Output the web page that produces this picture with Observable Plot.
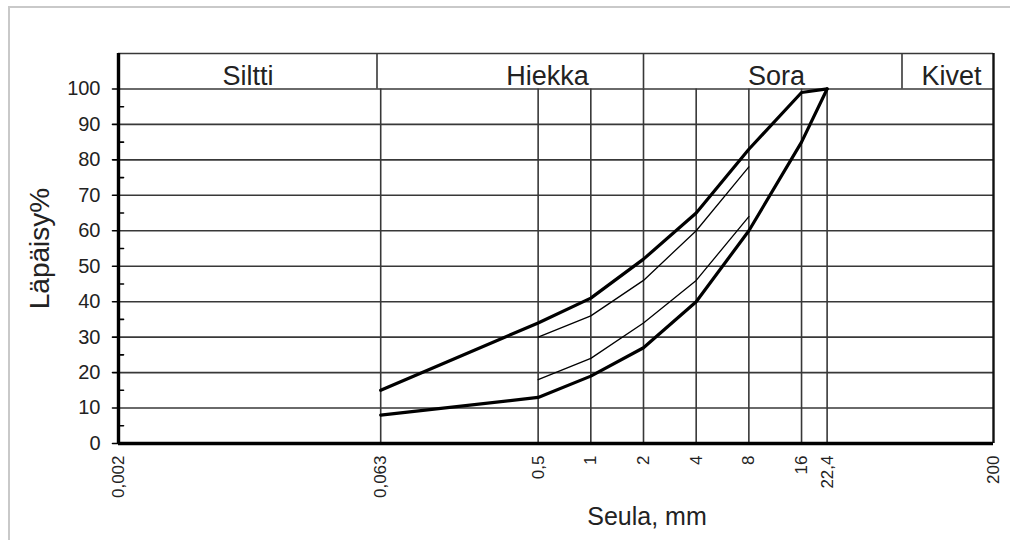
<!DOCTYPE html>
<html>
<head>
<meta charset="utf-8">
<script src="https://cdn.jsdelivr.net/npm/d3@7"></script>
<script src="https://cdn.jsdelivr.net/npm/@observablehq/plot@0.6"></script>
<style>
  html, body { margin: 0; padding: 0; background: #fff; }
  #wrap { position: relative; width: 1010px; height: 540px; overflow: hidden; }
  #border { position: absolute; left: 8px; top: 6px; width: 1010px; height: 540px; border: 2px solid #c9c9c9; box-sizing: border-box; }
  #chart { position: absolute; left: 0; top: 0; }
</style>
</head>
<body>
<div id="wrap"><div id="border"></div><div id="chart"></div></div>
<script>
// ---- data ----
const sieveLines = [0.063, 0.5, 1, 2, 4, 8, 16, 22.4];
const xTickValues = [0.002, 0.063, 0.5, 1, 2, 4, 8, 16, 22.4, 200];
const yTickValues = [0, 10, 20, 30, 40, 50, 60, 70, 80, 90, 100];
const yMinorTicks = [5, 15, 25, 35, 45, 55, 65, 75, 85, 95];
const bandEdges = [0.06, 2, 60];
const bandNames = ["Siltti", "Hiekka", "Sora", "Kivet"];
const bandLabelX = [0.011, 0.565, 11.5, 115];

const upperX = [0.063, 0.5, 1, 2, 4, 8, 16, 22.4];
const upperY = [15, 34, 41, 52, 65, 83, 99, 100];
const lowerX = [0.063, 0.5, 1, 2, 4, 8, 16, 22.4];
const lowerY = [8, 13, 19, 27, 40, 60, 85, 100];
const thinUpperX = [0.5, 1, 2, 4, 8];
const thinUpperY = [30, 36, 46, 60, 78];
const thinLowerX = [0.5, 1, 2, 4, 8];
const thinLowerY = [18, 24, 34, 46, 64];

const xMin = 0.002, xMax = 200;
const yBandTop = 110;

const toPts = (xs, ys) => xs.map((x, i) => ({x, y: ys[i]}));
const fmt = d => String(d).replace(".", ",");

const FONT = "'Liberation Sans', Arial, sans-serif";
const INK = "#222";
const GRID = "#383838";

const tickShape = {draw(context, l) { context.moveTo(0, 0); context.lineTo(0, -l); }};

const chart = Plot.plot({
  width: 1010,
  height: 540,
  marginLeft: 118,
  marginRight: 17,
  marginTop: 53,
  marginBottom: 97,
  style: {fontFamily: FONT, color: INK, background: "transparent", overflow: "visible"},
  x: {type: "log", domain: [xMin, xMax], axis: null},
  y: {domain: [0, yBandTop], axis: null},
  marks: [
    // horizontal grid
    Plot.ruleY(yTickValues, {x1: xMin, x2: xMax, stroke: GRID, strokeWidth: 1.6}),
    // header top line
    Plot.ruleY([yBandTop], {x1: xMin, x2: xMax, stroke: GRID, strokeWidth: 1.6}),
    // header separators
    Plot.ruleX(bandEdges, {y1: 100, y2: yBandTop, stroke: GRID, strokeWidth: 1.6}),
    // vertical sieve lines
    Plot.ruleX(sieveLines, {y1: 0, y2: 100, stroke: GRID, strokeWidth: 1.6}),
    // right edge
    Plot.ruleX([xMax], {y1: 0, y2: yBandTop, stroke: "#111", strokeWidth: 2.4}),
    // left thick axis line
    Plot.ruleX([xMin], {y1: 0, y2: yBandTop, stroke: "#000", strokeWidth: 3.4}),
    // bottom thick axis line
    Plot.ruleY([0], {x1: xMin, x2: xMax, stroke: "#000", strokeWidth: 3.6}),
    // band labels
    Plot.text(bandNames, {x: (d, i) => bandLabelX[i], y: 103.6, text: d => d, fontSize: 27, fill: INK}),
    // curves
    Plot.line(toPts(upperX, upperY), {x: "x", y: "y", stroke: "#000", strokeWidth: 3.2}),
    Plot.line(toPts(lowerX, lowerY), {x: "x", y: "y", stroke: "#000", strokeWidth: 3.2}),
    Plot.line(toPts(thinUpperX, thinUpperY), {x: "x", y: "y", stroke: "#000", strokeWidth: 1.3}),
    Plot.line(toPts(thinLowerX, thinLowerY), {x: "x", y: "y", stroke: "#000", strokeWidth: 1.3}),
    // y axis: major ticks outward, minor ticks inward
    Plot.vector(yTickValues, {x: xMin, y: d => d, length: 6, rotate: -90, anchor: "start", shape: tickShape, stroke: "#000", strokeWidth: 1.6}),
    Plot.vector(yMinorTicks, {x: xMin, y: d => d, length: 5, rotate: 90, anchor: "start", shape: tickShape, stroke: "#000", strokeWidth: 1.6}),
    Plot.text(yTickValues, {x: xMin, y: d => d, text: d => String(d), dx: -18, textAnchor: "end", fontSize: 20, fill: INK}),
    // x tick labels
    Plot.text(xTickValues, {x: d => d, y: 0, text: fmt, dy: 12, rotate: -90, textAnchor: "end", lineAnchor: "middle", fontSize: 17, fill: INK}),
    // axis titles
    Plot.text(["Läpäisy%"], {frameAnchor: "left", dx: -78, rotate: -90, textAnchor: "middle", lineAnchor: "middle", fontSize: 28, fill: INK}),
    Plot.text(["Seula, mm"], {frameAnchor: "bottom", dx: 91, dy: 73, textAnchor: "middle", lineAnchor: "middle", fontSize: 25, fill: INK})
  ]
});
document.getElementById("chart").appendChild(chart);
</script>
</body>
</html>
